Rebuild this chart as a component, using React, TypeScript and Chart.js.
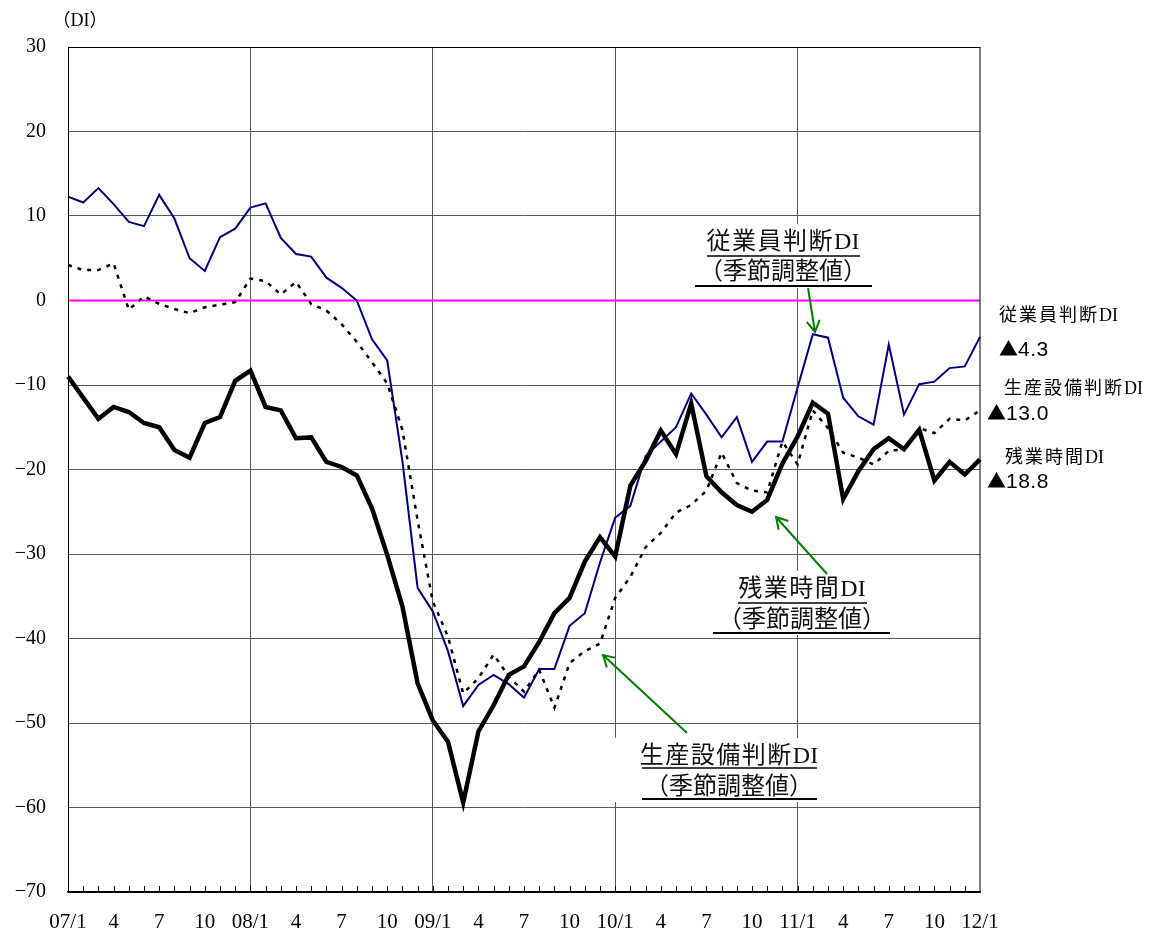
import React, { useEffect, useRef } from "react";
import { Chart, registerables } from "chart.js";
Chart.register(...registerables);

// ---- data ----
const years = ["07", "08", "09", "10", "11", "12"];
const labeledMonths = [1, 4, 7, 10];

// 従業員判断DI（季節調整値）
const employeeDI = [
  12.3, 11.6, 13.3, 11.4, 9.3, 8.8, 12.5, 9.7, 5.0, 3.5, 7.5, 8.5,
  11.0, 11.5, 7.4, 5.5, 5.2, 2.7, 1.5, 0.0, -4.6, -7.1, -19.0, -34.0,
  -36.8, -41.5, -48.0, -45.5, -44.3, -45.4, -47.0, -43.6, -43.6, -38.5, -37.0, -31.0,
  -25.7, -24.3, -18.4, -16.7, -15.0, -11.0, -13.5, -16.2, -13.8, -19.1, -16.7, -16.7,
  -10.3, -4.0, -4.4, -11.5, -13.7, -14.7, -5.2, -13.5, -9.9, -9.6, -8.0, -7.8,
  -4.3,
];

// 生産設備判断DI（季節調整値）
const equipmentDI = [
  4.2, 3.6, 3.6, 4.4, -1.1, 0.5, -0.4, -1.0, -1.5, -0.8, -0.5, -0.2,
  2.6, 2.3, 0.7, 2.2, -0.4, -1.2, -2.8, -4.9, -7.3, -9.8, -15.3, -26.0,
  -35.6, -39.8, -46.5, -44.7, -41.9, -44.5, -46.3, -43.7, -48.2, -42.9, -41.5, -40.6,
  -35.2, -32.7, -29.2, -27.5, -25.1, -24.2, -22.5, -18.0, -21.6, -22.5, -22.7, -16.7,
  -19.4, -13.0, -15.1, -18.0, -18.6, -19.4, -17.8, -17.6, -15.1, -15.7, -14.0, -14.2,
  -13.0,
];

// 残業時間DI（季節調整値）
const overtimeDI = [
  -9.0, -11.5, -14.0, -12.6, -13.2, -14.5, -15.0, -17.7, -18.6, -14.5, -13.8, -9.5,
  -8.3, -12.6, -13.0, -16.3, -16.2, -19.1, -19.7, -20.7, -24.6, -30.1, -36.2, -45.3,
  -49.7, -52.2, -59.4, -51.0, -47.9, -44.3, -43.3, -40.4, -37.0, -35.2, -30.9, -28.0,
  -30.3, -21.9, -19.0, -15.4, -18.2, -12.2, -20.8, -22.7, -24.2, -25.0, -23.6, -19.3,
  -16.1, -12.1, -13.4, -23.5, -20.2, -17.6, -16.3, -17.6, -15.3, -21.3, -19.1, -20.6,
  -18.8,
];

const seriesNames = ["従業員判断DI", "生産設備判断DI", "残業時間DI"];
const latestValues = ["4.3", "13.0", "18.8"];
const negMark = "▲";
const seasonalNote = "（季節調整値）";
const yUnit = "（DI）";
const yMin = -70;
const yMax = 30;
const yStep = 10;

// categories: 07/1 ... 12/1
const categories: string[] = [];
years.forEach((yr, yi) => {
  for (let m = 1; m <= 12; m++) {
    if (yi === years.length - 1 && m > 1) break;
    categories.push(`${yr}/${m}`);
  }
});

const tickText = (i: number) => {
  const [yr, m] = categories[i].split("/");
  const mm = parseInt(m, 10);
  if (!labeledMonths.includes(mm)) return "";
  return mm === 1 ? `${yr}/1` : `${mm}`;
};

const SERIF = '"Liberation Serif", "Noto Sans CJK JP", serif';
const SANS = '"Liberation Sans", "Noto Sans CJK JP", sans-serif';
const CJK = '"Noto Sans CJK JP", sans-serif';

function drawArrow(ctx: CanvasRenderingContext2D, x1: number, y1: number, x2: number, y2: number) {
  const ang = Math.atan2(y2 - y1, x2 - x1);
  const len = 13;
  ctx.beginPath();
  ctx.moveTo(x1, y1);
  ctx.lineTo(x2, y2);
  ctx.moveTo(x2 - len * Math.cos(ang - Math.PI / 6), y2 - len * Math.sin(ang - Math.PI / 6));
  ctx.lineTo(x2, y2);
  ctx.lineTo(x2 - len * Math.cos(ang + Math.PI / 6), y2 - len * Math.sin(ang + Math.PI / 6));
  ctx.stroke();
}

function hLine(ctx: CanvasRenderingContext2D, x1: number, x2: number, y: number, w: number) {
  ctx.lineWidth = w;
  ctx.beginPath();
  ctx.moveTo(x1, y);
  ctx.lineTo(x2, y);
  ctx.stroke();
}

// draws "xxxxDI": CJK part with letter spacing, "DI" tight
function drawName(
  ctx: CanvasRenderingContext2D,
  name: string,
  x: number,
  y: number,
  size: number,
  spacing: number,
  align: "left" | "center"
) {
  const cjk = name.replace("DI", "");
  ctx.textAlign = "left";
  ctx.font = `${size}px ${SERIF}`;
  (ctx as any).letterSpacing = `${spacing}px`;
  const w1 = ctx.measureText(cjk).width;
  (ctx as any).letterSpacing = "0px";
  const w2 = ctx.measureText("DI").width;
  const x0 = align === "center" ? x - (w1 + w2) / 2 : x;
  (ctx as any).letterSpacing = `${spacing}px`;
  ctx.fillText(cjk, x0, y);
  (ctx as any).letterSpacing = "0px";
  ctx.fillText("DI", x0 + w1, y);
}

type Note = {
  name: string;
  cx: number;
  y1: number;
  y2: number;
  u1: [number, number, number];
  u2: [number, number, number];
  box: [number, number, number, number];
  arrow: [number, number, number, number];
};

const notes: Note[] = [
  { name: seriesNames[0], cx: 783, y1: 243, y2: 273, u1: [707, 860, 256], u2: [695, 872, 286], box: [693, 224, 180, 64], arrow: [808, 288, 815, 332] },
  { name: seriesNames[2], cx: 802, y1: 590, y2: 621, u1: [738, 867, 603], u2: [713, 890, 633], box: [712, 571, 180, 64], arrow: [827, 574, 776, 517] },
  { name: seriesNames[1], cx: 729, y1: 757, y2: 788, u1: [642, 817, 768], u2: [642, 817, 799], box: [604, 738, 216, 64], arrow: [687, 733, 603, 655] },
];

const decorPlugin = {
  id: "decor",
  beforeDatasetsDraw(chart: any) {
    const { ctx, chartArea, scales } = chart;
    const { left, right } = chartArea;
    ctx.save();
    ctx.fillStyle = "#ffffff";
    notes.forEach((n) => ctx.fillRect(n.box[0], n.box[1], n.box[2], n.box[3]));
    const y0 = scales.y.getPixelForValue(0);
    ctx.strokeStyle = "#ff00ff";
    hLine(ctx, left, right, y0, 2);
    ctx.restore();
  },
  afterDatasetsDraw(chart: any) {
    const { ctx, chartArea, scales } = chart;
    const { left, right, top, bottom } = chartArea;
    ctx.save();
    // plot border
    ctx.strokeStyle = "#000";
    ctx.lineWidth = 1;
    ctx.strokeRect(left + 0.5, top + 0.5, right - left - 0.5, bottom - top);
    hLine(ctx, left, right, bottom, 1.5);
    // minor month ticks
    ctx.lineWidth = 1;
    for (let i = 1; i < categories.length - 1; i++) {
      const x = Math.round(scales.x.getPixelForValue(i)) + 0.5;
      ctx.beginPath();
      ctx.moveTo(x, bottom);
      ctx.lineTo(x, bottom - 6);
      ctx.stroke();
    }
    // annotations
    ctx.fillStyle = "#111";
    ctx.textBaseline = "middle";
    notes.forEach((n) => {
      drawName(ctx, n.name, n.cx, n.y1, 24, 1.5, "center");
      ctx.textAlign = "center";
      ctx.font = `24px ${SERIF}`;
      (ctx as any).letterSpacing = "0px";
      ctx.fillText(seasonalNote, n.cx, n.y2);
      ctx.strokeStyle = "#000";
      hLine(ctx, n.u1[0], n.u1[1], n.u1[2], 1.5);
      hLine(ctx, n.u2[0], n.u2[1], n.u2[2], 2);
      ctx.strokeStyle = "#008000";
      ctx.lineWidth = 2;
      drawArrow(ctx, n.arrow[0], n.arrow[1], n.arrow[2], n.arrow[3]);
    });
    // right-side latest values
    ctx.fillStyle = "#000";
    drawName(ctx, seriesNames[0], 999, 316, 18, 2, "left");
    drawName(ctx, seriesNames[1], 1004, 389, 18, 2, "left");
    drawName(ctx, seriesNames[2], 1005, 458, 18, 2, "left");
    const vals: [string, number, number][] = [
      [latestValues[0], 1000, 349],
      [latestValues[1], 988, 413],
      [latestValues[2], 988, 481],
    ];
    vals.forEach(([t, x, y]) => {
      ctx.textAlign = "left";
      ctx.font = `19px ${CJK}`;
      (ctx as any).letterSpacing = "0px";
      ctx.fillText(negMark, x - 1, y);
      const w = ctx.measureText(negMark).width;
      ctx.font = `21px ${SANS}`;
      (ctx as any).letterSpacing = "0.5px";
      ctx.fillText(t, x + w - 1, y + 1);
      (ctx as any).letterSpacing = "0px";
    });
    // unit label
    ctx.textAlign = "center";
    ctx.font = `18px ${SERIF}`;
    ctx.fillText(yUnit, 80, 21);
    ctx.restore();
  },
};

export default function App() {
  const ref = useRef<HTMLCanvasElement>(null);
  useEffect(() => {
    if (!ref.current) return;
    const chart = new Chart(ref.current, {
      type: "line",
      data: {
        labels: categories,
        datasets: [
          {
            label: seriesNames[2],
            data: overtimeDI,
            borderColor: "#000000",
            borderWidth: 4.5,
            pointRadius: 0,
            tension: 0,
            order: 0,
            borderJoinStyle: "miter",
          },
          {
            label: seriesNames[1],
            data: equipmentDI,
            borderColor: "#000000",
            borderWidth: 2.5,
            borderDash: [4, 6],
            pointRadius: 0,
            tension: 0,
            order: 1,
          },
          {
            label: seriesNames[0],
            data: employeeDI,
            borderColor: "#000080",
            borderWidth: 2,
            pointRadius: 0,
            tension: 0,
            order: 2,
          },
        ],
      },
      options: {
        animation: false,
        responsive: false,
        maintainAspectRatio: false,
        events: [],
        layout: { padding: { left: 0, right: 176, top: 47, bottom: 0 } },
        plugins: { legend: { display: false }, tooltip: { enabled: false } },
        scales: {
          x: {
            type: "category",
            offset: false,
            grid: {
              drawTicks: false,
              lineWidth: 1,
              color: (c: any) =>
                c.index % 12 === 0 && c.index > 0 && c.index < categories.length - 1 ? "#5a5a5a" : "rgba(0,0,0,0)",
            },
            border: { display: true, color: "#000", width: 1.5 },
            ticks: {
              autoSkip: false,
              maxRotation: 0,
              minRotation: 0,
              padding: 18,
              color: "#000",
              font: { family: SERIF, size: 21 },
              callback: (_v: any, i: number) => tickText(i),
            },
            afterFit: (s: any) => {
              s.height = 44;
            },
          },
          y: {
            min: yMin,
            max: yMax,
            grid: { drawTicks: false, color: "#5a5a5a", lineWidth: 1 },
            border: { display: true, color: "#000", width: 1 },
            ticks: {
              stepSize: yStep,
              padding: 22,
              color: "#000",
              font: { family: SERIF, size: 20 },
              callback: (v: any) => (v < 0 ? "−" + Math.abs(v) : String(v)),
            },
            afterFit: (s: any) => {
              s.width = 68;
            },
          },
        },
      },
      plugins: [decorPlugin],
    });
    return () => chart.destroy();
  }, []);
  return (
    <div style={{ position: "absolute", left: 0, top: 0, width: 1156, height: 936, background: "#fff" }}>
      <canvas ref={ref} width={1156} height={936} style={{ width: 1156, height: 936 }} />
    </div>
  );
}
